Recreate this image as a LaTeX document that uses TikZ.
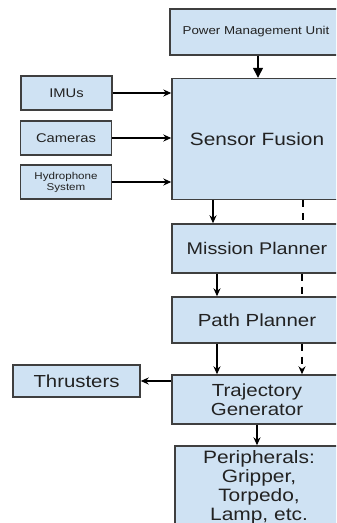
\documentclass[tikz,border=0pt]{standalone}
\usepackage{fontspec}
\setmainfont{Liberation Sans}[FakeStretch=1.17]
\usetikzlibrary{arrows.meta}
\definecolor{boxblue}{HTML}{CFE2F3}
\definecolor{boxline}{HTML}{3F3F3F}
\definecolor{boxtext}{HTML}{222222}

\begin{document}
\begin{tikzpicture}[x=1bp, y=-1bp, line width=1.4bp,
  block/.style={draw=boxline, fill=boxblue, text=boxtext, inner sep=0pt, align=center},
  sensor/.style={block, minimum width=91bp, minimum height=34bp, font=\fontsize{12.6bp}{15bp}\selectfont},
  stage/.style={block, minimum width=170bp, font=\fontsize{17.5bp}{19.3bp}\selectfont},
  flow/.style={-{Stealth[length=8bp,width=7bp]}, line width=1.3bp},
  link/.style={dash pattern=on 7bp off 6bp, line width=1.3bp}]
\useasboundingbox (0,0) rectangle (336,523);
\clip (0,0) rectangle (336,523);
\fill[white] (0,0) rectangle (336,523);
\node[block, minimum width=172bp, minimum height=46bp, font=\fontsize{11.4bp}{14bp}\selectfont] (power) at (256,32) {Power Management Unit};
\node[stage, minimum height=121bp, font=\fontsize{17.8bp}{20bp}\selectfont] (fusion) at (257,139) {Sensor Fusion};
\node[sensor] (imu) at (66.5,93) {IMUs};
\node[sensor] (cameras) at (66,138) {Cameras};
\node[sensor, font=\fontsize{9.9bp}{11bp}\selectfont] (hydro) at (66,182) {Hydrophone\\System};
\node[stage, minimum height=49bp, font=\fontsize{16.9bp}{20bp}\selectfont] (mission) at (257,248.5) {Mission Planner};
\node[stage, minimum height=46bp] (path) at (257,320) {Path Planner};
\node[stage, minimum height=49bp] (traj) at (257,399.5) {Trajectory\\Generator};
\node[block, minimum width=127bp, minimum height=32bp, font=\fontsize{17.4bp}{20bp}\selectfont] (thrust) at (76.5,381) {Thrusters};
\node[block, minimum width=168bp, minimum height=82bp, font=\fontsize{17.9bp}{19bp}\selectfont] (periph) at (259,487) {Peripherals:\\Gripper,\\Torpedo,\\Lamp, etc.};
\draw[flow, -{Triangle[length=10bp,width=10bp]}] (power.south -| 258,0) -- (fusion.north -| 258,0);
\draw[flow] (imu.east) -- (imu.east -| fusion.west);
\draw[flow] (cameras.east) -- (cameras.east -| fusion.west);
\draw[flow] (hydro.east) -- (hydro.east -| fusion.west);
\draw[flow] (fusion.south -| 213,0) -- (mission.north -| 213,0);
\draw[link] (fusion.south -| 303,0) -- (mission.north -| 303,0);
\draw[flow] (mission.south -| 217,0) -- (path.north -| 217,0);
\draw[link] (mission.south -| 302,0) -- (path.north -| 302,0);
\draw[flow] (path.south -| 217,0) -- (traj.north -| 217,0);
\draw[link, flow] (path.south -| 302,0) -- (traj.north -| 302,0);
\draw[flow] (traj.west |- thrust.east) -- (thrust.east);
\draw[flow] (traj.south) -- (periph.north -| traj.south);
\end{tikzpicture}
\end{document}
